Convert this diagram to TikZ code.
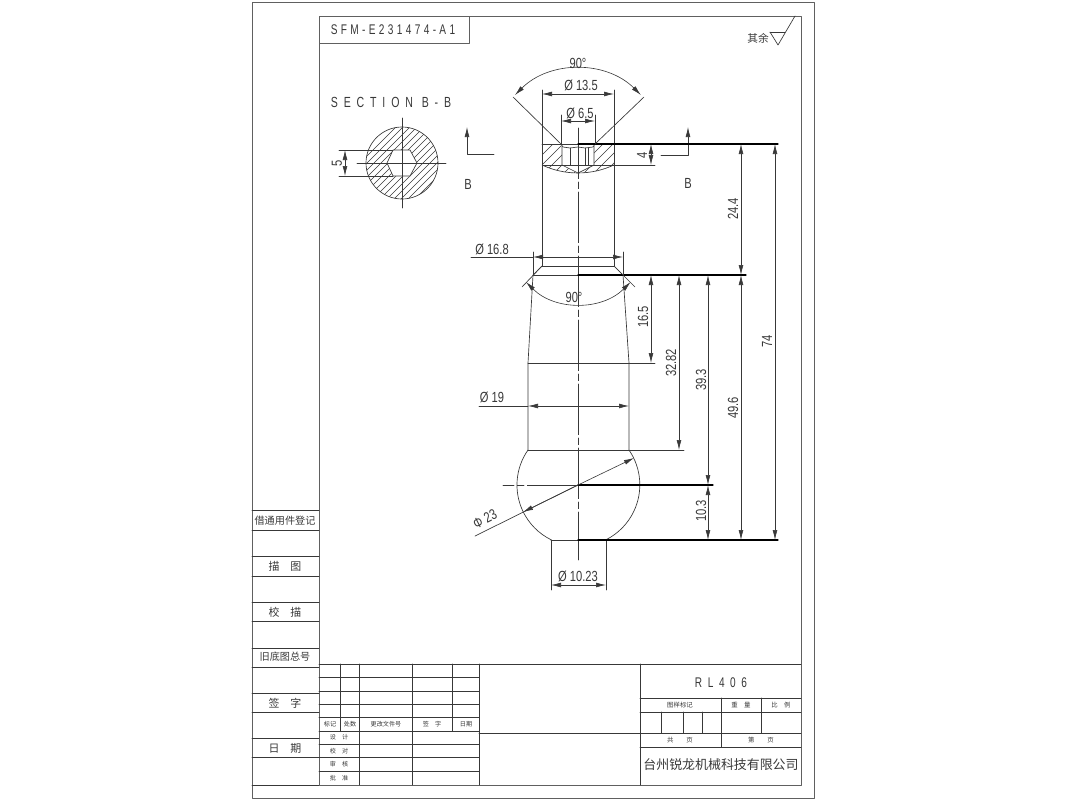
\documentclass[tikz,border=0pt]{standalone}
\usepackage{fontspec}
\setmainfont{Liberation Sans}
\newfontfamily\cjk{Noto Sans CJK SC}
\newfontfamily\dimfont[FakeStretch=0.76]{Liberation Sans}
\newfontfamily\titlefont[FakeStretch=0.72,LetterSpace=24]{Liberation Sans}
\newfontfamily\widefont[FakeStretch=0.72,LetterSpace=40]{Liberation Sans}
\usetikzlibrary{arrows.meta}
\definecolor{inkgray}{gray}{0.22}
\tikzset{
    part/.style = {draw=inkgray, line width=0.5pt},
    heavy/.style = {draw=black, line width=0.95pt},
    frame/.style = {draw=inkgray!80, line width=0.65pt},
    grid/.style = {draw=inkgray, line width=0.55pt},
    dim/.style = {draw=inkgray, line width=0.45pt, {Latex[length=7.5pt,width=3.6pt]}-{Latex[length=7.5pt,width=3.6pt]}},
    tipend/.style = {draw=inkgray, line width=0.45pt, -{Latex[length=7.5pt,width=3.6pt]}},
    axis/.style = {draw=inkgray, line width=0.45pt, dash pattern=on 38pt off 2.5pt on 5pt off 2.5pt},
    hatch/.style = {draw=inkgray, line width=0.4pt},
    dimtext/.style = {text=inkgray, font=\dimfont\fontsize{11}{12}\selectfont, inner sep=0pt},
    zhtext/.style = {text=inkgray, font=\cjk\fontsize{#1}{#1}\selectfont, inner sep=0pt},
    spaced/.style = {text=inkgray, font=\titlefont\fontsize{#1}{#1}\selectfont, inner sep=0pt},
    wider/.style = {text=inkgray, font=\widefont\fontsize{#1}{#1}\selectfont, inner sep=0pt},
}
\begin{document}
\begin{tikzpicture}[x=0.75pt,y=-0.75pt,line cap=round,line join=round]
\useasboundingbox (0,0) rectangle (1067,800);

% frames
\draw [frame] (252,2) rectangle (814,798);
\draw [frame] (319,16) rectangle (801,785);
\draw [frame] (319,16) rectangle (469,43);
\node (drawno) [spaced=10.5] at (393,30) {SFM-E231474-A1};

% left column
\foreach \y in {510,530,556,576,602,621,648,667,693,712,738,757,785}
    \draw [grid] (252,\y) -- (319,\y);
\node (regtext) [zhtext=7.6] at (285,521) {借通用件登记};
\node (tracetext) [zhtext=8.2] at (285,566) {描\quad 图};
\node (checktext) [zhtext=8.2] at (285,612) {校\quad 描};
\node (oldtext) [zhtext=7.6] at (285,657) {旧底图总号};
\node (signtext) [zhtext=8.2] at (285,703) {签\quad 字};
\node (datetext) [zhtext=8.2] at (285,748) {日\quad 期};

% roughness mark
\draw [part] (770,32) -- (785,32);
\draw [part] (770,32) -- (778,45) -- (795,16);
\node (resttext) [zhtext=8] at (758,38) {其余};

% title block, change table
\foreach \y in {664,677,691,704,717,731,744,757,771}
    \draw [grid] (319,\y) -- (479,\y);
\draw [grid] (479,664) -- (801,664);
\draw [grid] (340,664) -- (340,731);
\draw [grid] (359,664) -- (359,785);
\draw [grid] (412,664) -- (412,785);
\draw [grid] (452,664) -- (452,731);
\draw [grid] (479,664) -- (479,785);
\draw [grid] (479,733) -- (801,733);
\node (marktext) [zhtext=4.6] at (330,724) {标记};
\node (counttext) [zhtext=4.6] at (350,724) {处数};
\node (filetext) [zhtext=4.6] at (386,724) {更改文件号};
\node (sigtext) [zhtext=4.6] at (432,724) {签\quad 字};
\node (daytext) [zhtext=4.6] at (466,724) {日期};
\node (designtext) [zhtext=4.6] at (339,737) {设\quad 计};
\node (verifytext) [zhtext=4.6] at (339,751) {校\quad 对};
\node (audittext) [zhtext=4.6] at (339,764) {审\quad 核};
\node (approvetext) [zhtext=4.6] at (339,778) {批\quad 准};

% title block, right part
\draw [grid] (640,664) -- (640,785);
\draw [grid] (640,698) -- (801,698);
\draw [grid] (640,712) -- (801,712);
\draw [grid] (640,747) -- (801,747);
\draw [grid] (721,698) -- (721,747);
\draw [grid] (761,698) -- (761,733);
\foreach \x in {661,683,702}
    \draw [grid] (\x,712) -- (\x,733);
\node (partno) [wider=10.5] at (721,683) {RL406};
\node (stagetext) [zhtext=4.8] at (680,705) {图样标记};
\node (weighttext) [zhtext=4.8] at (741,705) {重\quad 量};
\node (scaletext) [zhtext=4.8] at (781,705) {比\quad 例};
\node (totaltext) [zhtext=4.8] at (680,740) {共\qquad 页};
\node (sheettext) [zhtext=4.8] at (761,740) {第\qquad 页};
\node (company) [zhtext=9.7] at (721,765) {台州锐龙机械科技有限公司};

% section B-B
\node (sectitle) [wider=11] at (391,102) {SECTION B-B};
\begin{scope}
\clip (402,163) circle (36);
\foreach \i in {-42,-35,...,84}
    \draw [hatch] (402+\i-50,163+50) -- (402+\i+50,163-50);
\end{scope}
\fill [white] (387,163) -- (393,150) -- (410,150) -- (417,163) -- (410,176) -- (393,176) -- cycle;
\draw [part] (402,163) circle (36);
\draw [part] (387,163) -- (393,150) -- (410,150) -- (417,163) -- (410,176) -- (393,176) -- cycle;
\draw [part] (357,163) -- (446,163);
\draw [part] (402,118) -- (402,208);
\draw [part] (339,150) -- (393,150);
\draw [part] (339,176) -- (393,176);
\draw [dim] (345,150) -- (345,176);
\node (dimfive) [dimtext, rotate=90] at (337,163) {5};

% cutting plane marks
\draw [tipend] (494,154) -- (467,154) -- (467,127);
\draw [tipend] (661,155) -- (688,155) -- (688,127);
\node (bleft) [dimtext] at (468,184) {B};
\node (bright) [dimtext] at (688,183) {B};

% head with hatching
\begin{scope}
\clip (542,144) -- (614,144) -- (614,165) arc (65:115:85) -- cycle;
\foreach \i in {-40,-30,...,100}
    \draw [hatch] (542+\i-10,175) -- (542+\i+30,135);
\end{scope}
\fill [white] (562,147) -- (562,165) -- (578,173) -- (594,165) -- (594,147) -- (595,144) -- (561,144) -- cycle;
\draw [part] (542,144) -- (578,144);
\draw [part] (542,144) -- (542,165) -- (614,165);
\draw [part] (542,165) arc (115:65:85);
\draw [part] (562,146) -- (562,165) -- (578,173) -- (594,165) -- (594,146);
\draw [part] (561,144) -- (563,147) -- (570,148) -- (578,147) -- (585,148) -- (593,147) -- (595,144);
\draw [part] (570,148) -- (570,165);
\draw [part] (585,148) -- (585,165);
\draw [part] (588,148) -- (588,165);

% shaft and body
\draw [part] (542,90) -- (542,266);
\draw [part] (614,90) -- (614,266);
\draw [part] (542,266) -- (614,266);
\draw [part] (542,266) -- (533,275) -- (528,363) -- (528,450);
\draw [part] (614,266) -- (623,275) -- (629,363) -- (629,450);
\draw [part] (533,275) -- (578,275);
\draw [part] (528,363) -- (629,363);
\draw [part] (528,450) -- (684,450);
\draw [part] (551,540) -- (578,540);
\draw [part] (551,540) -- (551,590);
\draw [part] (606,540) -- (606,590);
\draw [part] (528,450) arc (215:116:61);
\draw [part] (629,450) arc (-34.5:63:61.5);

% center lines
\draw [axis] (578,128) -- (578,560);
\draw [axis] (578,485) -- (503,485);

% heavy datum lines
\draw [heavy] (578,144) -- (778,144);
\draw [heavy] (578,275) -- (746,275);
\draw [heavy] (578,485) -- (713,485);
\draw [heavy] (578,540) -- (778,540);

% top angle and diameters
\draw [part] (561,144) -- (513,97);
\draw [part] (595,144) -- (644,97);
\draw [dim] (515,95) arc (225:315:89);
\node (angletop) [dimtext] at (578,63) {90°};
\draw [dim] (542,94) -- (614,94);
\node (diabig) [dimtext] at (581,85) {Ø 13.5};
\draw [part] (561,144) -- (561,115);
\draw [part] (595,144) -- (595,115);
\draw [dim] (561,121) -- (595,121);
\node (diahole) [dimtext] at (580,113) {Ø 6.5};
\draw [part] (614,165) -- (655,165);
\draw [dim] (651,144) -- (651,165);
\node (dimdepth) [dimtext, rotate=90] at (642,155) {4};

% neck
\draw [part] (533,275) -- (533,252);
\draw [part] (623,275) -- (623,252);
\draw [part] (471,257) -- (533,257);
\draw [dim] (533,257) -- (623,257);
\node (dianeck) [dimtext] at (492,249) {Ø 16.8};
\draw [part] (542,266) -- (522,287);
\draw [part] (614,266) -- (635,287);
\draw [dim] (526,282) arc (135:45:74);
\node (anglelow) [dimtext] at (574,297) {90°};

% vertical dimensions
\draw [part] (629,363) -- (655,363);
\draw [dim] (651,275) -- (651,363);
\node (dimcone) [dimtext, rotate=90] at (643,317) {16.5};
\draw [dim] (679,275) -- (679,450);
\node (dimbody) [dimtext, rotate=90] at (671,363) {32.82};
\draw [dim] (708,275) -- (708,485);
\node (dimcentre) [dimtext, rotate=90] at (701,380) {39.3};
\draw [dim] (708,485) -- (708,540);
\node (dimball) [dimtext, rotate=90] at (701,511) {10.3};
\draw [dim] (741,144) -- (741,275);
\node (dimshaft) [dimtext, rotate=90] at (733,209) {24.4};
\draw [dim] (741,275) -- (741,540);
\node (dimlower) [dimtext, rotate=90] at (733,408) {49.6};
\draw [dim] (775,144) -- (775,540);
\node (dimtotal) [dimtext, rotate=90] at (767,341) {74};

% diameters of body and ball
\draw [part] (479,406) -- (528,406);
\draw [dim] (528,406) -- (629,406);
\node (diabody) [dimtext] at (492,397) {Ø 19};
\draw [tipend] (578,485) -- (634,458);
\draw [part] (578,485) -- (475,536);
\draw [tipend] (578,485) -- (523,512);
\node (diaball) [dimtext, rotate=27] at (485,519) {Φ 23};
\draw [dim] (551,585) -- (606,585);
\node (diaend) [dimtext] at (578,576) {Ø 10.23};
\end{tikzpicture}
\end{document}
